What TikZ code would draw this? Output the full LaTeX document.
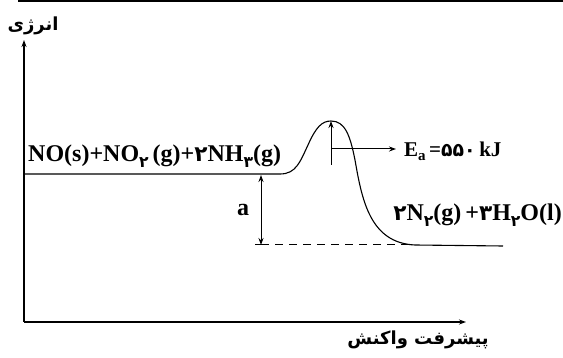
\documentclass[tikz,border=0pt]{standalone}
\usepackage{fontspec}
\setmainfont{Liberation Serif}
\newfontfamily\fa[Script=Arabic]{DejaVu Sans}
\TeXXeTstate=1
\usetikzlibrary{arrows.meta}
\newcommand{\pd}[1]{{\fa\scalebox{0.9}{#1}}}
\newcommand{\psub}[1]{\raisebox{-0.6ex}{\scalebox{0.65}{\fa #1}}}
\begin{document}
\begin{tikzpicture}[x=1pt,y=-1pt,
  axis/.style={line width=1.6pt,-{Stealth[length=7pt,width=5pt]}},
  curve/.style={line width=1.1pt},
  arr/.style={line width=1pt,-{Stealth[length=7pt,width=5pt]}},
  lbl/.style={inner sep=0pt,font=\bfseries}]
\useasboundingbox (0,0) rectangle (563,358);
\draw[line width=2pt] (18,1.5) -- (563,1.5);
\coordinate (O) at (24,322);
\coordinate (Ytip) at (24,40);
\coordinate (Xtip) at (466,322);
\draw[axis] (O) -- (Ytip);
\draw[axis] (O) -- (Xtip);
\node[lbl] (ylab) at (33,26) {\fontsize{18}{19}\selectfont\fa\bfseries\beginR انرژی\endR};
\node[lbl] (xlab) at (418,340) {\fontsize{18}{19}\selectfont\fa\bfseries\beginR پیشرفت واکنش\endR};
% energy curve
\coordinate (peak) at (331,121);
\draw[curve] (O |- 0,174) -- (280,174) .. controls (296,174) and (300,162) .. (308,145)
  .. controls (316,127) and (322,121) .. (peak)
  .. controls (345,121) and (350,135) .. (355,160)
  .. controls (362,200) and (370,243) .. (415,245) -- (503,246);
% Ea arrows
\coordinate (eabot) at (331,165);
\coordinate (eamid) at (331,149);
\coordinate (eaend) at (396,149);
\draw[arr] (eabot) -- (peak);
\draw[arr] (eamid) -- (eaend);
\node[lbl,anchor=west] (ea) at (404,151) {\fontsize{21}{22}\selectfont E\raisebox{-0.4ex}{\fontsize{15}{16}\selectfont a}\,=\pd{۵۵۰}\,kJ};
% a arrow
\coordinate (atop) at (261,175);
\coordinate (abot) at (261,245);
\draw[line width=1pt,{Stealth[length=7pt,width=5pt]}-{Stealth[length=7pt,width=5pt]}] (atop) -- (abot);
\draw[line width=1pt] (255,245) -- (267,245);
\draw[line width=1pt,dashed,dash pattern=on 8pt off 6pt] (abot) -- (410,245);
\node[lbl] (alab) at (243,210) {\fontsize{24}{26}\selectfont a};
% labels
\node[lbl,anchor=west] (react) at (28,156) {\fontsize{24}{26}\selectfont NO(s)+NO\psub{۲}\,(g)+\pd{۲}NH\psub{۳}(g)};
\node[lbl,anchor=east] (prod) at (562,215) {\fontsize{24}{26}\selectfont \pd{۲}N\psub{۲}(g)\,+\pd{۳}H\psub{۲}O(l)};
\end{tikzpicture}
\end{document}
